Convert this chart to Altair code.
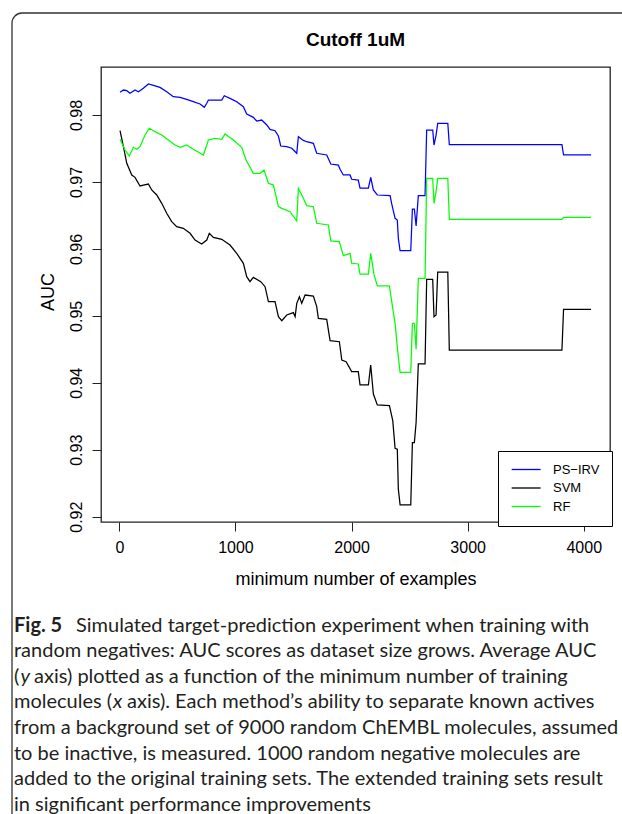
import altair as alt
import pandas as pd

methods = ["PS\u2212IRV", "SVM", "RF"]
colors = ["#0000FF", "#000000", "#00FF00"]

psirv_x = [6, 35, 64, 92, 135, 164, 207, 250, 293, 350, 408, 465, 523, 580, 637, 695, 732, 753, 767, 882,
           904, 953, 1011, 1068, 1097, 1154, 1183, 1226, 1270, 1298, 1341, 1370, 1390, 1442, 1485, 1528,
           1542, 1585, 1614, 1671, 1700, 1786, 1821, 1886, 1901, 1929, 1987, 2001, 2058, 2073, 2145, 2165,
           2188, 2222, 2332, 2346, 2375, 2394, 2403, 2418, 2510, 2524, 2541, 2556, 2575, 2633, 2647, 2699,
           2710, 2728, 2742, 2829, 2842, 3812, 3826, 4063]
psirv_y = [0.98339, 0.98373, 0.98363, 0.98324, 0.98373, 0.98348, 0.98399, 0.98463, 0.98443, 0.98413,
           0.98348, 0.98273, 0.98264, 0.98234, 0.98199, 0.98164, 0.98115, 0.98175, 0.98224, 0.98224,
           0.98288, 0.98249, 0.98199, 0.98124, 0.98015, 0.97965, 0.97910, 0.97925, 0.97851, 0.97786,
           0.97766, 0.97686, 0.97537, 0.97527, 0.97503, 0.97428,
           0.97676, 0.97620, 0.97601, 0.97577, 0.97428, 0.97403, 0.97268, 0.97253, 0.97189, 0.97104,
           0.97104, 0.97040, 0.97029, 0.96906, 0.96906, 0.97070, 0.96880, 0.96805, 0.96795, 0.96671,
           0.96457, 0.96431, 0.96158, 0.95973, 0.95973, 0.96596, 0.96596, 0.96342, 0.96795, 0.96795,
           0.97776, 0.97776, 0.97552, 0.97701, 0.97876, 0.97876, 0.97557, 0.97557, 0.97403, 0.97403]

svm_x = [6, 35, 64, 107, 135, 178, 207, 250, 279, 322, 365, 408, 451, 494, 551, 609, 652, 709, 753, 775,
         810, 882, 953, 1011, 1068, 1097, 1125, 1154, 1218, 1255, 1284, 1341, 1370, 1399, 1442, 1499,
         1514, 1528, 1551, 1571, 1600, 1671, 1700, 1714, 1786, 1815, 1895, 1916, 1953, 2001, 2058, 2073,
         2145, 2165, 2188, 2222, 2326, 2355, 2375, 2394, 2403, 2418, 2510, 2524, 2541, 2556, 2575, 2633,
         2647, 2699, 2710, 2728, 2742, 2829, 2842, 3812, 3826, 4063]
svm_y = [0.97766, 0.97527, 0.97279, 0.97104, 0.97069, 0.96940, 0.96954, 0.96969, 0.96880, 0.96805,
         0.96681, 0.96532, 0.96407, 0.96332, 0.96308, 0.96233, 0.96133, 0.96073, 0.96133, 0.96233,
         0.96173, 0.96143, 0.96058, 0.95933, 0.95785, 0.95585, 0.95510, 0.95575, 0.95510, 0.95436,
         0.95212, 0.95212, 0.94988, 0.94928, 0.95013, 0.95048, 0.94988, 0.95187, 0.95286, 0.95187,
         0.95311, 0.95296, 0.95137, 0.94963, 0.94948, 0.94629, 0.94614, 0.94341, 0.94316, 0.94167,
         0.94167, 0.93968, 0.93968, 0.94266, 0.93833, 0.93669, 0.93659, 0.93435, 0.93023, 0.93008,
         0.92411, 0.92177, 0.92177, 0.93108, 0.93108, 0.93407, 0.94281, 0.94281, 0.95546, 0.95546,
         0.94988, 0.95013, 0.95655, 0.95655, 0.94490, 0.94490, 0.95098, 0.95098]

rf_x = [6, 49, 86, 121, 150, 178, 221, 258, 307, 365, 422, 480, 523, 580, 637, 724, 767, 824, 882, 910,
        982, 1054, 1091, 1154, 1212, 1246, 1284, 1327, 1370, 1399, 1471, 1528, 1542, 1585, 1614, 1671,
        1700, 1800, 1821, 1895, 1929, 1987, 2001, 2058, 2073, 2145, 2165, 2194, 2222, 2326, 2346, 2375,
        2398, 2418, 2510, 2524, 2541, 2556, 2575, 2633, 2647, 2699, 2710, 2728, 2742, 2829, 2842, 3812,
        3826, 4063]
rf_y = [0.97637, 0.97477, 0.97388, 0.97518, 0.97488, 0.97527, 0.97701, 0.97801, 0.97751, 0.97701,
        0.97627, 0.97552, 0.97518, 0.97552, 0.97488, 0.97403, 0.97627, 0.97652, 0.97637, 0.97716,
        0.97627, 0.97518, 0.97328, 0.97129, 0.97129, 0.97179, 0.96980, 0.96954, 0.96631, 0.96606,
        0.96556, 0.96417, 0.96905, 0.96756, 0.96645, 0.96630, 0.96383, 0.96357, 0.96119, 0.96109,
        0.95900, 0.95934, 0.95785, 0.95775, 0.95625, 0.95625, 0.95934, 0.95611, 0.95446, 0.95446,
        0.95212, 0.94888, 0.94465, 0.94157, 0.94157, 0.94888, 0.94888, 0.94500, 0.95561, 0.95561,
        0.97054, 0.97054, 0.96681, 0.96854, 0.97054, 0.97054, 0.96442, 0.96442, 0.96472, 0.96472]

x_ticks = [0, 1000, 2000, 3000, 4000]
y_ticks = [0.92, 0.93, 0.94, 0.95, 0.96, 0.97, 0.98]

title_text = "Cutoff 1uM"
x_title = "minimum number of examples"
y_title = "AUC"

caption_lines = [
    "Simulated target-prediction experiment when training with",
    "random negatives: AUC scores as dataset size grows. Average AUC",
    "axis) plotted as a function of the minimum number of training",
    "axis). Each method\u2019s ability to separate known actives",
    "from a background set of 9000 random ChEMBL molecules, assumed",
    "to be inactive, is measured. 1000 random negative molecules are",
    "added to the original training sets. The extended training sets result",
    "in significant performance improvements",
]

rows = []
for name, xs, ys in zip(methods, [psirv_x, svm_x, rf_x], [psirv_y, svm_y, rf_y]):
    for i, (a, b) in enumerate(zip(xs, ys)):
        rows.append({"method": name, "n": a, "auc": b, "idx": i})
df = pd.DataFrame(rows)

W, H = 509, 455
OX, OY = 101, 67

lines = alt.Chart(df).mark_line(strokeWidth=1.25, clip=True).encode(
    x=alt.X("n:Q", scale=alt.Scale(domain=[-158, 4226], nice=False, zero=False),
            axis=alt.Axis(values=x_ticks, title=x_title, format="d", labelPadding=8,
                          titleY=62, titleBaseline="alphabetic")),
    y=alt.Y("auc:Q", scale=alt.Scale(domain=[0.91921, 0.98717], nice=False, zero=False),
            axis=alt.Axis(values=y_ticks, title=y_title, format=".2f", labelAngle=270,
                          labelAlign="center", labelBaseline="bottom", labelPadding=8,
                          titleX=-48, titleY=H / 2 - 3, titleAngle=270, titleAlign="center",
                          titleBaseline="alphabetic")),
    color=alt.Color("method:N", scale=alt.Scale(domain=methods, range=colors),
                    legend=alt.Legend(orient="none", legendX=397, legendY=384, title=None,
                                      symbolType="M-1,0H5", symbolSize=93, symbolStrokeWidth=1.3,
                                      labelFont="Liberation Sans", labelFontSize=13, labelOffset=30,
                                      strokeColor="black", fillColor="white", padding=12,
                                      rowPadding=4.5)),
    order="idx:Q",
)

one = pd.DataFrame({"a": [0]})
frame = alt.Chart(one).mark_rect(fill=None, stroke="#333", strokeWidth=1.3, cornerRadius=10).encode(
    x=alt.value(12 - OX), x2=alt.value(640 - OX), y=alt.value(13 - OY), y2=alt.value(840 - OY))

title_mark = alt.Chart(one).mark_text(text=title_text, font="Liberation Sans", fontSize=19,
                                      fontWeight="bold", align="center", baseline="middle",
                                      color="black").encode(
    x=alt.value(W / 2), y=alt.value(40 - OY))

cap_font = "Lato"
cap_size = 20
cap_color = "#231f20"
line_y = [626, 651, 677, 702, 728, 754, 779, 805]
line_x = [76, 14, 34, 127, 14, 14, 14, 14]

layers = [frame, lines, title_mark]
for txt, yy, xx in zip(caption_lines, line_y, line_x):
    layers.append(alt.Chart(one).mark_text(text=txt, font=cap_font, fontSize=cap_size, align="left",
                                            baseline="middle", color=cap_color).encode(
        x=alt.value(xx - OX), y=alt.value(yy - OY)))

extras = [("Fig. 5", 14, 626, "bold", "normal"), ("(", 14, 677, "normal", "normal"),
          ("y", 20.5, 677, "normal", "italic"), ("molecules (", 14, 702, "normal", "normal"),
          ("x", 113, 702, "normal", "italic")]
for txt, xx, yy, fw, fs in extras:
    layers.append(alt.Chart(one).mark_text(text=txt, font=cap_font, fontSize=cap_size, align="left",
                                            baseline="middle", color=cap_color, fontWeight=fw,
                                            fontStyle=fs).encode(
        x=alt.value(xx - OX), y=alt.value(yy - OY)))

chart = alt.layer(*layers).properties(
    width=W, height=H,
    autosize=alt.AutoSizeParams(type="none"),
    padding={"left": OX, "top": OY, "right": 622 - OX - W, "bottom": 814 - OY - H},
).configure_view(stroke="#222", strokeWidth=1.3).configure_axis(
    labelFont="Liberation Sans", titleFont="Liberation Sans", labelColor="black", titleColor="black",
    tickColor="#222", domain=False, grid=False, tickSize=9, labelFontSize=16, titleFontSize=18,
    titleFontWeight="normal"
)

chart.save("out.html", embed_options={"renderer": "svg", "actions": False})
